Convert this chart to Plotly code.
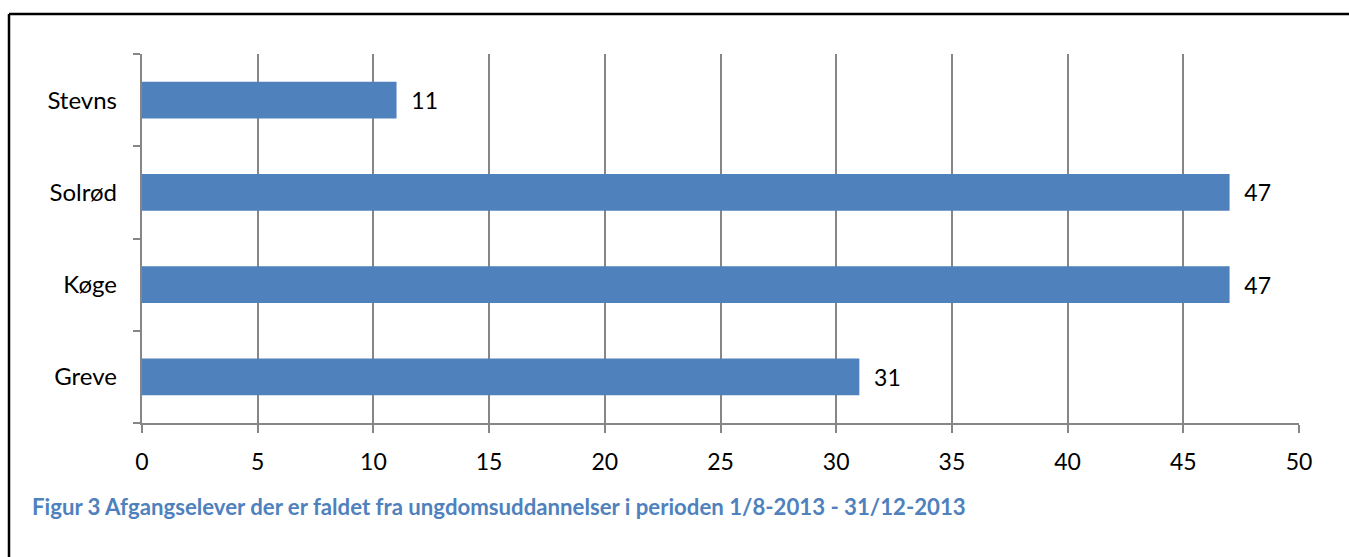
import plotly.graph_objects as go

categories = ["Greve", "Køge", "Solrød", "Stevns"]
values = [31, 47, 47, 11]
x_ticks = list(range(0, 51, 5))
caption = "Figur 3 Afgangselever der er faldet fra ungdomsuddannelser i perioden 1/8-2013 - 31/12-2013"

W, H = 1349, 557
L, R, T, B = 142, 50, 54, 134
pw, ph = W - L - R, H - T - B

def px(x):
    return (x - L) / pw

def py(y):
    return (H - B - y) / ph

FONT = "Lato, Open Sans, sans-serif"
NB = "\u00a0"

fig = go.Figure(go.Bar(
    y=categories, x=values, orientation="h",
    marker=dict(color="#4F81BD", line=dict(width=0)),
    texttemplate=NB * 2 + "%{x}", textposition="outside",
    textfont=dict(size=23, color="#000000", family=FONT),
    cliponaxis=False,
))

fig.update_layout(
    width=W, height=H,
    margin=dict(l=L, r=R, t=T, b=B, autoexpand=False),
    paper_bgcolor="white", plot_bgcolor="white",
    bargap=0.6, showlegend=False,
    font=dict(family=FONT, size=23, color="#000000"),
    xaxis=dict(range=[0, 50], tickvals=x_ticks, showgrid=True, gridcolor="#868686", gridwidth=1.5,
               showline=True, linecolor="#868686", linewidth=1.5, ticks="outside", ticklen=8,
               tickcolor="#868686", tickwidth=1.5, zeroline=False, fixedrange=True,
               ticklabelstandoff=10, tickfont=dict(size=23)),
    yaxis=dict(categoryorder="array", categoryarray=categories, showgrid=False,
               showline=True, linecolor="#868686", linewidth=1.5, ticks="outside", ticklen=7,
               tickcolor="#868686", tickwidth=1.5, tickson="boundaries", fixedrange=True,
               tickfont=dict(size=24), ticksuffix=NB * 3),
    shapes=[
        dict(type="line", xref="paper", yref="paper", x0=px(9), x1=px(W + 5), y0=py(14), y1=py(14),
             line=dict(color="black", width=2.5)),
        dict(type="line", xref="paper", yref="paper", x0=px(9), x1=px(9), y0=py(14), y1=py(H + 5),
             line=dict(color="black", width=2.5)),
    ],
    annotations=[dict(text="<b>" + caption + "</b>", xref="paper", yref="paper", x=px(30), y=py(507),
                      xanchor="left", yanchor="middle", showarrow=False,
                      font=dict(size=22.2, color="#4F81BD", family=FONT))],
)

fig.write_html("out.html", config={"displayModeBar": False},
               post_script="document.body.style.margin='0px';document.body.style.overflow='hidden';")
